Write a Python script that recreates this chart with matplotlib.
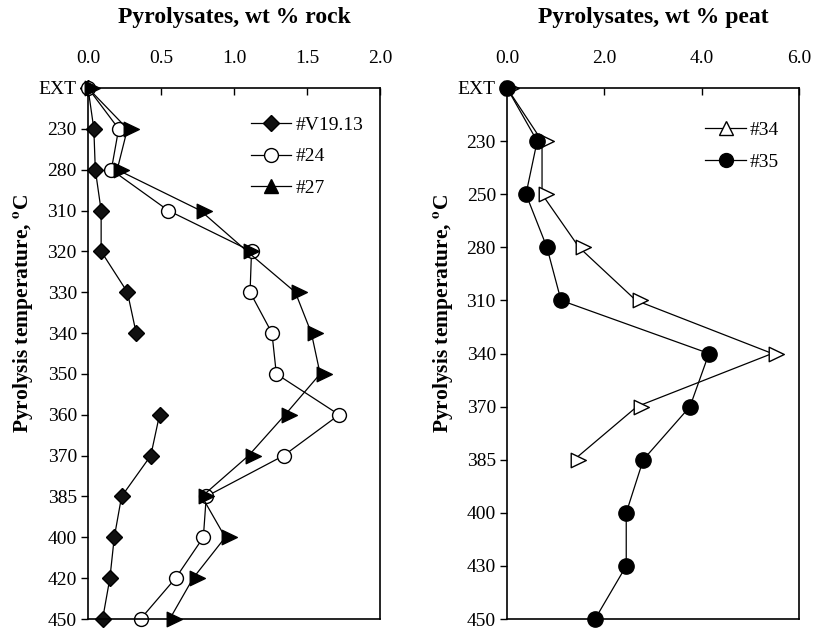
import numpy as np
import matplotlib
matplotlib.use('Agg')
import matplotlib.pyplot as plt
from matplotlib.lines import Line2D
from matplotlib.path import Path

plt.rcParams['font.family'] = ['Liberation Serif', 'DejaVu Serif']
plt.rcParams['mathtext.fontset'] = 'stix'

# rock pyrolysates (left panel)
rock_temps = ['EXT', '230', '280', '310', '320', '330', '340', '350', '360', '370', '385', '400', '420', '450']
v1913 = [0.0, 0.04, 0.05, 0.09, 0.09, 0.27, 0.33, np.nan, 0.49, 0.43, 0.23, 0.18, 0.15, 0.10]
s24 = [0.0, 0.21, 0.16, 0.55, 1.12, 1.11, 1.26, 1.29, 1.72, 1.34, 0.81, 0.79, 0.60, 0.36]
s27 = [0.0, 0.27, 0.20, 0.77, 1.09, 1.42, 1.53, 1.59, 1.35, 1.10, 0.78, 0.94, 0.72, 0.56]

# peat pyrolysates (right panel)
peat_temps = ['EXT', '230', '250', '280', '310', '340', '370', '385', '400', '430', '450']
s34 = [0.0, 0.72, 0.72, 1.48, 2.65, 5.45, 2.67, 1.38, np.nan, np.nan, np.nan]
s35 = [0.0, 0.62, 0.39, 0.82, 1.11, 4.15, 3.76, 2.80, 2.45, 2.45, 1.81]

# right-pointing triangle with its base near the data point (as in the original)
tri = Path([(-0.25, -0.55), (0.9, 0.0), (-0.25, 0.55), (-0.25, -0.55)],
           [Path.MOVETO, Path.LINETO, Path.LINETO, Path.CLOSEPOLY])

fig = plt.figure(figsize=(8.16, 6.28), dpi=100)
W, H = 816, 628


def make_axes(x0, xmax, xticks, xfmt, n):
    ax = fig.add_axes([x0 / W, (H - 619) / H, 292 / W, 531 / H])
    ax.set_xlim(0, xmax)
    ax.set_ylim(n - 1, 0)
    ax.xaxis.tick_top()
    ax.set_xticks(xticks)
    ax.set_xticklabels([xfmt % t for t in xticks])
    ax.tick_params(axis='x', direction='in', length=5, width=1, labelsize=14, pad=15)
    ax.tick_params(axis='y', direction='out', length=5, width=1, labelsize=14, pad=3)
    for sp in ax.spines.values():
        sp.set_linewidth(1.2)
    return ax


lkw = dict(color='black', lw=0.9, clip_on=False)

# left panel
ax1 = make_axes(88, 2.0, [0.0, 0.5, 1.0, 1.5, 2.0], '%.1f', len(rock_temps))
y1 = np.arange(len(rock_temps))
ax1.set_yticks(y1)
ax1.set_yticklabels(rock_temps)
ax1.plot(v1913, y1, marker='D', ms=8, mfc='#111111', mec='black', **lkw)
ax1.plot(s24, y1, marker='o', ms=10, mfc='white', mec='black', **lkw)
ax1.plot(s27, y1, marker=tri, ms=17, mfc='black', mec='black', **lkw)

h1 = [Line2D([], [], color='black', lw=0.9, marker='D', ms=8, mfc='#111111', mec='black'),
      Line2D([], [], color='black', lw=0.9, marker='o', ms=10, mfc='white', mec='black'),
      Line2D([], [], color='black', lw=0.9, marker='^', ms=10, mfc='black', mec='black')]
ax1.legend(h1, ['#V19.13', '#24', '#27'], loc='upper left', bbox_to_anchor=(0.497, 0.98),
           frameon=False, fontsize=14, handlelength=2.1, handletextpad=0.2, labelspacing=0.72)

# right panel
ax2 = make_axes(507, 6.0, [0.0, 2.0, 4.0, 6.0], '%.1f', len(peat_temps))
y2 = np.arange(len(peat_temps))
ax2.set_yticks(y2)
ax2.set_yticklabels(peat_temps)
ax2.plot(s34, y2, marker=tri, ms=17, mfc='white', mec='black', **lkw)
ax2.plot(s35, y2, marker='o', ms=11, mfc='black', mec='black', **lkw)

h2 = [Line2D([], [], color='black', lw=0.9, marker='^', ms=10, mfc='white', mec='black'),
      Line2D([], [], color='black', lw=0.9, marker='o', ms=10, mfc='black', mec='black')]
ax2.legend(h2, ['#34', '#35'], loc='upper left', bbox_to_anchor=(0.619, 0.97),
           frameon=False, fontsize=14, handlelength=2.1, handletextpad=0.2, labelspacing=0.72)

# titles and axis labels
fig.text(234 / W, 1 - 18 / H, 'Pyrolysates, wt % rock', ha='center', va='center',
         fontsize=17, fontweight='bold')
fig.text(653 / W, 1 - 18 / H, 'Pyrolysates, wt % peat', ha='center', va='center',
         fontsize=17, fontweight='bold')
ylab = r'Pyrolysis temperature, $^{\mathbf{o}}$C'
fig.text(24 / W, 1 - 313 / H, ylab, rotation=90, ha='center', va='center',
         fontsize=15.5, fontweight='bold')
fig.text(444 / W, 1 - 313 / H, ylab, rotation=90, ha='center', va='center',
         fontsize=15.5, fontweight='bold')

fig.savefig('out.png', dpi=100)
